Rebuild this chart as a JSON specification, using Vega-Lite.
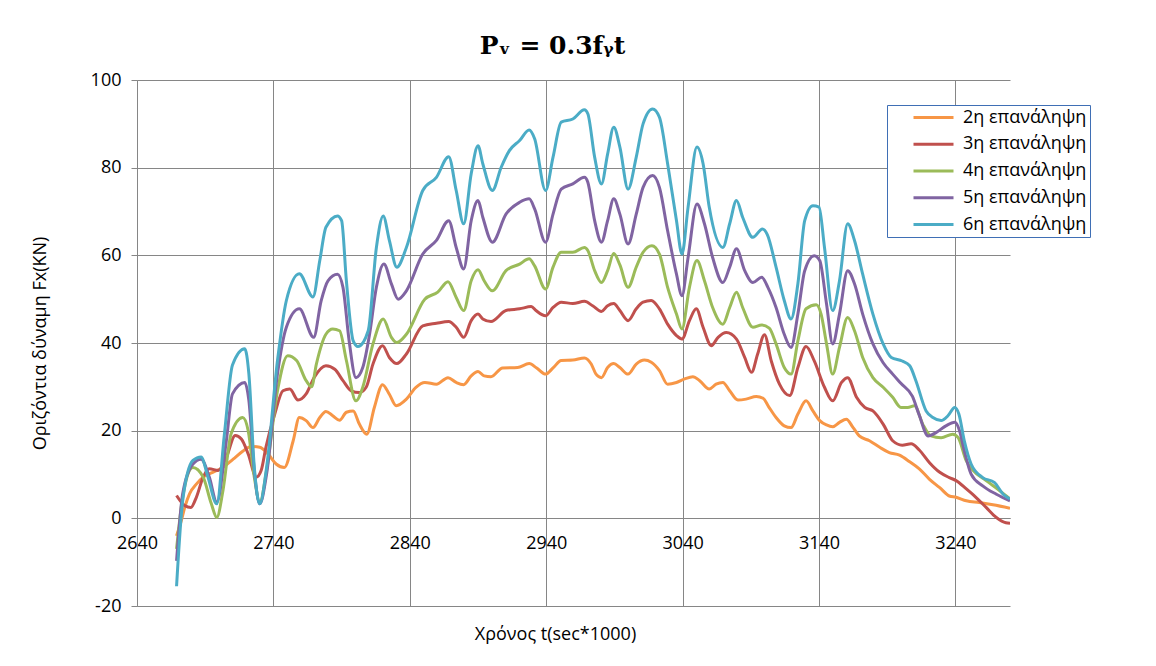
{
  "$schema": "https://vega.github.io/schema/vega-lite/v6.json",
  "width": 873,
  "height": 526,
  "autosize": {"type": "none"},
  "padding": {"left": 137, "top": 80, "right": 146, "bottom": 60},
  "background": "white",
  "title": {
    "text": "Pᵥ = 0.3fᵧt",
    "font": "DejaVu Serif",
    "fontSize": 25,
    "fontWeight": "bold",
    "color": "#000000",
    "anchor": "middle",
    "frame": "group",
    "dx": -21,
    "offset": 12
  },
  "data": {
    "values": [
      {"s": "2η επανάληψη", "t": 2669, "F": -4},
      {"s": "2η επανάληψη", "t": 2672.5, "F": -0.5},
      {"s": "2η επανάληψη", "t": 2675, "F": 2.5},
      {"s": "2η επανάληψη", "t": 2678.5, "F": 5.6},
      {"s": "2η επανάληψη", "t": 2683.5, "F": 7.8},
      {"s": "2η επανάληψη", "t": 2688.5, "F": 9.4},
      {"s": "2η επανάληψη", "t": 2695.5, "F": 10.5},
      {"s": "2η επανάληψη", "t": 2703, "F": 11.6},
      {"s": "2η επανάληψη", "t": 2710.5, "F": 13.5},
      {"s": "2η επανάληψη", "t": 2717.5, "F": 15.3},
      {"s": "2η επανάληψη", "t": 2723.5, "F": 16.4},
      {"s": "2η επανάληψη", "t": 2730, "F": 16.2},
      {"s": "2η επανάληψη", "t": 2736, "F": 14.7},
      {"s": "2η επανάληψη", "t": 2742, "F": 12.4},
      {"s": "2η επανάληψη", "t": 2748, "F": 11.6},
      {"s": "2η επανάληψη", "t": 2754.5, "F": 17.7},
      {"s": "2η επανάληψη", "t": 2759, "F": 23},
      {"s": "2η επανάληψη", "t": 2764, "F": 22.3},
      {"s": "2η επανάληψη", "t": 2769, "F": 20.7},
      {"s": "2η επανάληψη", "t": 2774, "F": 23},
      {"s": "2η επανάληψη", "t": 2778.5, "F": 24.4},
      {"s": "2η επανάληψη", "t": 2783.5, "F": 23.4},
      {"s": "2η επανάληψη", "t": 2788.5, "F": 22.4},
      {"s": "2η επανάληψη", "t": 2793.5, "F": 24.2},
      {"s": "2η επανάληψη", "t": 2798.5, "F": 24.5},
      {"s": "2η επανάληψη", "t": 2803, "F": 21.5},
      {"s": "2η επανάληψη", "t": 2808.5, "F": 19.2},
      {"s": "2η επανάληψη", "t": 2814, "F": 25.3},
      {"s": "2η επανάληψη", "t": 2820, "F": 30.5},
      {"s": "2η επανάληψη", "t": 2825, "F": 28.3},
      {"s": "2η επανάληψη", "t": 2830, "F": 25.7},
      {"s": "2η επανάληψη", "t": 2837.5, "F": 27.2},
      {"s": "2η επανάληψη", "t": 2844.5, "F": 29.9},
      {"s": "2η επανάληψη", "t": 2851, "F": 31},
      {"s": "2η επανάληψη", "t": 2859.5, "F": 30.6},
      {"s": "2η επανάληψη", "t": 2868, "F": 32.1},
      {"s": "2η επανάληψη", "t": 2874, "F": 31},
      {"s": "2η επανάληψη", "t": 2879.5, "F": 30.5},
      {"s": "2η επανάληψη", "t": 2885, "F": 32.5},
      {"s": "2η επανάληψη", "t": 2890, "F": 33.5},
      {"s": "2η επανάληψη", "t": 2894.5, "F": 32.5},
      {"s": "2η επανάληψη", "t": 2899.5, "F": 32.3},
      {"s": "2η επανάληψη", "t": 2908, "F": 34.3},
      {"s": "2η επανάληψη", "t": 2919, "F": 34.4},
      {"s": "2η επανάληψη", "t": 2927.5, "F": 35.3},
      {"s": "2η επανάληψη", "t": 2933, "F": 34.3},
      {"s": "2η επανάληψη", "t": 2939.5, "F": 32.9},
      {"s": "2η επανάληψη", "t": 2945, "F": 34.3},
      {"s": "2η επανάληψη", "t": 2951, "F": 36},
      {"s": "2η επανάληψη", "t": 2959.5, "F": 36.1},
      {"s": "2η επανάληψη", "t": 2968, "F": 36.6},
      {"s": "2η επανάληψη", "t": 2973, "F": 35.2},
      {"s": "2η επανάληψη", "t": 2976.5, "F": 32.9},
      {"s": "2η επανάληψη", "t": 2980.5, "F": 32.1},
      {"s": "2η επανάληψη", "t": 2985, "F": 34.4},
      {"s": "2η επανάληψη", "t": 2989.5, "F": 35.3},
      {"s": "2η επανάληψη", "t": 2994, "F": 34.4},
      {"s": "2η επανάληψη", "t": 3000, "F": 32.9},
      {"s": "2η επανάληψη", "t": 3006, "F": 35.2},
      {"s": "2η επανάληψη", "t": 3012, "F": 36.1},
      {"s": "2η επανάληψη", "t": 3017, "F": 35.6},
      {"s": "2η επανάληψη", "t": 3023, "F": 33.7},
      {"s": "2η επανάληψη", "t": 3029, "F": 30.6},
      {"s": "2η επανάληψη", "t": 3035.5, "F": 31},
      {"s": "2η επανάληψη", "t": 3041.5, "F": 31.8},
      {"s": "2η επανάληψη", "t": 3047.5, "F": 32.3},
      {"s": "2η επανάληψη", "t": 3052.5, "F": 31.4},
      {"s": "2η επανάληψη", "t": 3059.5, "F": 29.5},
      {"s": "2η επανάληψη", "t": 3064.5, "F": 30.6},
      {"s": "2η επανάληψη", "t": 3069.5, "F": 31},
      {"s": "2η επανάληψη", "t": 3074.5, "F": 29.1},
      {"s": "2η επανάληψη", "t": 3080.5, "F": 27},
      {"s": "2η επανάληψη", "t": 3086.5, "F": 27.2},
      {"s": "2η επανάληψη", "t": 3094, "F": 27.8},
      {"s": "2η επανάληψη", "t": 3099, "F": 27.4},
      {"s": "2η επανάληψη", "t": 3103, "F": 25.5},
      {"s": "2η επανάληψη", "t": 3108.5, "F": 23},
      {"s": "2η επανάληψη", "t": 3114.5, "F": 21.1},
      {"s": "2η επανάληψη", "t": 3119.5, "F": 20.7},
      {"s": "2η επανάληψη", "t": 3124.5, "F": 23.8},
      {"s": "2η επανάληψη", "t": 3130.5, "F": 26.8},
      {"s": "2η επανάληψη", "t": 3135.5, "F": 24.5},
      {"s": "2η επανάληψη", "t": 3140.5, "F": 22.3},
      {"s": "2η επανάληψη", "t": 3145.5, "F": 21.3},
      {"s": "2η επανάληψη", "t": 3150, "F": 20.9},
      {"s": "2η επανάληψη", "t": 3155, "F": 21.9},
      {"s": "2η επανάληψη", "t": 3160, "F": 22.6},
      {"s": "2η επανάληψη", "t": 3165, "F": 20.7},
      {"s": "2η επανάληψη", "t": 3169.5, "F": 18.8},
      {"s": "2η επανάληψη", "t": 3177, "F": 17.7},
      {"s": "2η επανάληψη", "t": 3184.5, "F": 16.2},
      {"s": "2η επανάληψη", "t": 3191.5, "F": 15},
      {"s": "2η επανάληψη", "t": 3199, "F": 14.4},
      {"s": "2η επανάληψη", "t": 3206.5, "F": 12.9},
      {"s": "2η επανάληψη", "t": 3213.5, "F": 11.3},
      {"s": "2η επανάληψη", "t": 3221, "F": 8.9},
      {"s": "2η επανάληψη", "t": 3228.5, "F": 7},
      {"s": "2η επανάληψη", "t": 3235.5, "F": 5.1},
      {"s": "2η επανάληψη", "t": 3240.5, "F": 4.8},
      {"s": "2η επανάληψη", "t": 3248, "F": 4},
      {"s": "2η επανάληψη", "t": 3257.5, "F": 3.6},
      {"s": "2η επανάληψη", "t": 3267.5, "F": 3.1},
      {"s": "2η επανάληψη", "t": 3280, "F": 2.3},

      {"s": "3η επανάληψη", "t": 2669, "F": 5.2},
      {"s": "3η επανάληψη", "t": 2675, "F": 2.9},
      {"s": "3η επανάληψη", "t": 2679.5, "F": 2.5},
      {"s": "3η επανάληψη", "t": 2683.5, "F": 4.8},
      {"s": "3η επανάληψη", "t": 2688.5, "F": 9.4},
      {"s": "3η επανάληψη", "t": 2693, "F": 11.3},
      {"s": "3η επανάληψη", "t": 2699.5, "F": 10.9},
      {"s": "3η επανάληψη", "t": 2705.5, "F": 13.9},
      {"s": "3η επανάληψη", "t": 2712, "F": 18.9},
      {"s": "3η επανάληψη", "t": 2716.5, "F": 18.1},
      {"s": "3η επανάληψη", "t": 2721.5, "F": 14.7},
      {"s": "3η επανάληψη", "t": 2727.5, "F": 9.4},
      {"s": "3η επανάληψη", "t": 2731, "F": 10.9},
      {"s": "3η επανάληψη", "t": 2734.5, "F": 16.2},
      {"s": "3η επανάληψη", "t": 2741, "F": 23.8},
      {"s": "3η επανάληψη", "t": 2747, "F": 29.1},
      {"s": "3η επανάληψη", "t": 2752, "F": 29.5},
      {"s": "3η επανάληψη", "t": 2758, "F": 27},
      {"s": "3η επανάληψη", "t": 2764, "F": 28.4},
      {"s": "3η επανάληψη", "t": 2770, "F": 32.2},
      {"s": "3η επανάληψη", "t": 2778.5, "F": 34.8},
      {"s": "3η επανάληψη", "t": 2785, "F": 34},
      {"s": "3η επανάληψη", "t": 2791, "F": 31.4},
      {"s": "3η επανάληψη", "t": 2797, "F": 29.1},
      {"s": "3η επανάληψη", "t": 2803, "F": 28.7},
      {"s": "3η επανάληψη", "t": 2808, "F": 29.9},
      {"s": "3η επανάληψη", "t": 2813, "F": 35.2},
      {"s": "3η επανάληψη", "t": 2820, "F": 39.4},
      {"s": "3η επανάληψη", "t": 2825, "F": 36.7},
      {"s": "3η επανάληψη", "t": 2830.5, "F": 35.3},
      {"s": "3η επανάληψη", "t": 2837.5, "F": 37.5},
      {"s": "3η επανάληψη", "t": 2849.5, "F": 43.9},
      {"s": "3η επανάληψη", "t": 2859.5, "F": 44.5},
      {"s": "3η επανάληψη", "t": 2868.5, "F": 44.9},
      {"s": "3η επανάληψη", "t": 2874, "F": 43.6},
      {"s": "3η επανάληψη", "t": 2879.5, "F": 41.3},
      {"s": "3η επανάληψη", "t": 2885, "F": 45.1},
      {"s": "3η επανάληψη", "t": 2890, "F": 46.6},
      {"s": "3η επανάληψη", "t": 2893.5, "F": 45.5},
      {"s": "3η επανάληψη", "t": 2899.5, "F": 44.9},
      {"s": "3η επανάληψη", "t": 2910.5, "F": 47.4},
      {"s": "3η επανάληψη", "t": 2920.5, "F": 47.8},
      {"s": "3η επανάληψη", "t": 2929, "F": 48.3},
      {"s": "3η επανάληψη", "t": 2932.5, "F": 47.4},
      {"s": "3η επανάληψη", "t": 2939.5, "F": 46.2},
      {"s": "3η επανάληψη", "t": 2945, "F": 48.1},
      {"s": "3η επανάληψη", "t": 2951, "F": 49.3},
      {"s": "3η επανάληψη", "t": 2959.5, "F": 49},
      {"s": "3η επανάληψη", "t": 2968, "F": 49.5},
      {"s": "3η επανάληψη", "t": 2974, "F": 48.5},
      {"s": "3η επανάληψη", "t": 2980.5, "F": 47.2},
      {"s": "3η επανάληψη", "t": 2985, "F": 48.5},
      {"s": "3η επανάληψη", "t": 2989.5, "F": 49},
      {"s": "3η επανάληψη", "t": 2994, "F": 47.4},
      {"s": "3η επανάληψη", "t": 3000, "F": 45.1},
      {"s": "3η επανάληψη", "t": 3006, "F": 47.8},
      {"s": "3η επανάληψη", "t": 3011, "F": 49.3},
      {"s": "3η επανάληψη", "t": 3017, "F": 49.7},
      {"s": "3η επανάληψη", "t": 3023, "F": 47.8},
      {"s": "3η επανάληψη", "t": 3029, "F": 44.3},
      {"s": "3η επανάληψη", "t": 3035.5, "F": 41.7},
      {"s": "3η επανάληψη", "t": 3039.5, "F": 40.9},
      {"s": "3η επανάληψη", "t": 3045, "F": 45.1},
      {"s": "3η επανάληψη", "t": 3050, "F": 47.8},
      {"s": "3η επανάληψη", "t": 3055, "F": 43.6},
      {"s": "3η επανάληψη", "t": 3061, "F": 39.4},
      {"s": "3η επανάληψη", "t": 3066, "F": 41.3},
      {"s": "3η επανάληψη", "t": 3072, "F": 42.4},
      {"s": "3η επανάληψη", "t": 3079.5, "F": 40.9},
      {"s": "3η επανάληψη", "t": 3085.5, "F": 36.7},
      {"s": "3η επανάληψη", "t": 3090.5, "F": 33.3},
      {"s": "3η επανάληψη", "t": 3095, "F": 37.5},
      {"s": "3η επανάληψη", "t": 3100, "F": 41.9},
      {"s": "3η επανάληψη", "t": 3105, "F": 35.9},
      {"s": "3η επανάληψη", "t": 3111, "F": 30.6},
      {"s": "3η επανάληψη", "t": 3118.5, "F": 28},
      {"s": "3η επανάληψη", "t": 3124.5, "F": 34.4},
      {"s": "3η επανάληψη", "t": 3130.5, "F": 39.2},
      {"s": "3η επανάληψη", "t": 3136.5, "F": 35.9},
      {"s": "3η επανάληψη", "t": 3144, "F": 29.9},
      {"s": "3η επανάληψη", "t": 3150, "F": 26.8},
      {"s": "3η επανάληψη", "t": 3156.5, "F": 31},
      {"s": "3η επανάληψη", "t": 3161, "F": 32.1},
      {"s": "3η επανάληψη", "t": 3167.5, "F": 27.6},
      {"s": "3η επανάληψη", "t": 3173.5, "F": 25.3},
      {"s": "3η επανάληψη", "t": 3179.5, "F": 24.5},
      {"s": "3η επανάληψη", "t": 3187, "F": 21.5},
      {"s": "3η επανάληψη", "t": 3194, "F": 17.7},
      {"s": "3η επανάληψη", "t": 3201, "F": 16.7},
      {"s": "3η επανάληψη", "t": 3207.5, "F": 17},
      {"s": "3η επανάληψη", "t": 3213.5, "F": 15.6},
      {"s": "3η επανάληψη", "t": 3221, "F": 12.7},
      {"s": "3η επανάληψη", "t": 3228.5, "F": 10.5},
      {"s": "3η επανάληψη", "t": 3235.5, "F": 9.3},
      {"s": "3η επανάληψη", "t": 3240.5, "F": 8.6},
      {"s": "3η επανάληψη", "t": 3248, "F": 6.7},
      {"s": "3η επανάληψη", "t": 3255, "F": 4.8},
      {"s": "3η επανάληψη", "t": 3262.5, "F": 2.5},
      {"s": "3η επανάληψη", "t": 3270, "F": 0.2},
      {"s": "3η επανάληψη", "t": 3277, "F": -1},
      {"s": "3η επανάληψη", "t": 3280, "F": -1.1},

      {"s": "4η επανάληψη", "t": 2669, "F": -7},
      {"s": "4η επανάληψη", "t": 2673.5, "F": 4.8},
      {"s": "4η επανάληψη", "t": 2681, "F": 11.6},
      {"s": "4η επανάληψη", "t": 2688.5, "F": 9.4},
      {"s": "4η επανάληψη", "t": 2694.5, "F": 3.3},
      {"s": "4η επανάληψη", "t": 2698.5, "F": 0.2},
      {"s": "4η επανάληψη", "t": 2703, "F": 6.3},
      {"s": "4η επανάληψη", "t": 2709, "F": 19.3},
      {"s": "4η επανάληψη", "t": 2717.5, "F": 23},
      {"s": "4η επανάληψη", "t": 2721.5, "F": 20},
      {"s": "4η επανάληψη", "t": 2726, "F": 9.4},
      {"s": "4η επανάληψη", "t": 2730, "F": 3.7},
      {"s": "4η επανάληψη", "t": 2735, "F": 10.9},
      {"s": "4η επανάληψη", "t": 2743, "F": 29.1},
      {"s": "4η επανάληψη", "t": 2750.5, "F": 37.1},
      {"s": "4η επανάληψη", "t": 2757, "F": 36},
      {"s": "4η επανάληψη", "t": 2764, "F": 31.4},
      {"s": "4η επανάληψη", "t": 2768, "F": 30},
      {"s": "4η επανάληψη", "t": 2771.5, "F": 35.2},
      {"s": "4η επανάληψη", "t": 2778.5, "F": 42},
      {"s": "4η επανάληψη", "t": 2783.5, "F": 43.2},
      {"s": "4η επανάληψη", "t": 2788.5, "F": 42.8},
      {"s": "4η επανάληψη", "t": 2793.5, "F": 36},
      {"s": "4η επανάληψη", "t": 2800.5, "F": 26.8},
      {"s": "4η επανάληψη", "t": 2805.5, "F": 29.9},
      {"s": "4η επανάληψη", "t": 2813, "F": 39.8},
      {"s": "4η επανάληψη", "t": 2820.5, "F": 45.5},
      {"s": "4η επανάληψη", "t": 2826.5, "F": 41.3},
      {"s": "4η επανάληψη", "t": 2830.5, "F": 40.1},
      {"s": "4η επανάληψη", "t": 2837.5, "F": 42},
      {"s": "4η επανάληψη", "t": 2851, "F": 50},
      {"s": "4η επανάληψη", "t": 2860.5, "F": 51.6},
      {"s": "4η επανάληψη", "t": 2868, "F": 54},
      {"s": "4η επανάληψη", "t": 2874, "F": 50.4},
      {"s": "4η επανάληψη", "t": 2879.5, "F": 47.4},
      {"s": "4η επανάληψη", "t": 2885, "F": 54.2},
      {"s": "4η επανάληψη", "t": 2890, "F": 56.7},
      {"s": "4η επανάληψη", "t": 2894.5, "F": 54.2},
      {"s": "4η επανάληψη", "t": 2900.5, "F": 51.9},
      {"s": "4η επανάληψη", "t": 2910.5, "F": 56.5},
      {"s": "4η επανάληψη", "t": 2920.5, "F": 58},
      {"s": "4η επανάληψη", "t": 2927.5, "F": 59.2},
      {"s": "4η επανάληψη", "t": 2931.5, "F": 57.6},
      {"s": "4η επανάληψη", "t": 2939.5, "F": 52.3},
      {"s": "4η επανάληψη", "t": 2945, "F": 57.3},
      {"s": "4η επανάληψη", "t": 2951, "F": 60.7},
      {"s": "4η επανάληψη", "t": 2959.5, "F": 60.7},
      {"s": "4η επανάληψη", "t": 2968, "F": 61.8},
      {"s": "4η επανάληψη", "t": 2970.5, "F": 61.1},
      {"s": "4η επανάληψη", "t": 2975.5, "F": 56.5},
      {"s": "4η επανάληψη", "t": 2980.5, "F": 53.8},
      {"s": "4η επανάληψη", "t": 2985, "F": 56.5},
      {"s": "4η επανάληψη", "t": 2989.5, "F": 60.4},
      {"s": "4η επανάληψη", "t": 2994, "F": 57.8},
      {"s": "4η επανάληψη", "t": 3000, "F": 52.7},
      {"s": "4η επανάληψη", "t": 3006, "F": 57.3},
      {"s": "4η επανάληψη", "t": 3011, "F": 60.7},
      {"s": "4η επανάληψη", "t": 3017.5, "F": 62.2},
      {"s": "4η επανάληψη", "t": 3023, "F": 60.3},
      {"s": "4η επανάληψη", "t": 3029, "F": 52.7},
      {"s": "4η επανάληψη", "t": 3035.5, "F": 46.6},
      {"s": "4η επανάληψη", "t": 3039.5, "F": 43.2},
      {"s": "4η επανάληψη", "t": 3045, "F": 52.7},
      {"s": "4η επανάληψη", "t": 3050.5, "F": 58.8},
      {"s": "4η επανάληψη", "t": 3056, "F": 54.2},
      {"s": "4η επανάληψη", "t": 3062, "F": 48.1},
      {"s": "4η επανάληψη", "t": 3069.5, "F": 44.3},
      {"s": "4η επανάληψη", "t": 3074.5, "F": 48.1},
      {"s": "4η επανάληψη", "t": 3079.5, "F": 51.6},
      {"s": "4η επανάληψη", "t": 3084, "F": 48.1},
      {"s": "4η επανάληψη", "t": 3091.5, "F": 43.6},
      {"s": "4η επανάληψη", "t": 3098, "F": 44.1},
      {"s": "4η επανάληψη", "t": 3103.5, "F": 43.4},
      {"s": "4η επανάληψη", "t": 3108.5, "F": 39.8},
      {"s": "4η επανάληψη", "t": 3114.5, "F": 34.4},
      {"s": "4η επανάληψη", "t": 3119.5, "F": 32.9},
      {"s": "4η επανάληψη", "t": 3124.5, "F": 40.5},
      {"s": "4η επανάληψη", "t": 3130.5, "F": 47.8},
      {"s": "4η επανάληψη", "t": 3138, "F": 48.7},
      {"s": "4η επανάληψη", "t": 3141.5, "F": 46.6},
      {"s": "4η επανάληψη", "t": 3145.5, "F": 39.8},
      {"s": "4η επανάληψη", "t": 3150, "F": 32.9},
      {"s": "4η επανάληψη", "t": 3155, "F": 39},
      {"s": "4η επανάληψη", "t": 3161, "F": 45.8},
      {"s": "4η επανάληψη", "t": 3166, "F": 42.8},
      {"s": "4η επανάληψη", "t": 3172, "F": 36.7},
      {"s": "4η επανάληψη", "t": 3179.5, "F": 32.1},
      {"s": "4η επανάληψη", "t": 3187, "F": 29.9},
      {"s": "4η επανάληψη", "t": 3194, "F": 27.6},
      {"s": "4η επανάληψη", "t": 3200, "F": 25.3},
      {"s": "4η επανάληψη", "t": 3205, "F": 25.3},
      {"s": "4η επανάληψη", "t": 3210, "F": 25.7},
      {"s": "4η επανάληψη", "t": 3216, "F": 21.5},
      {"s": "4η επανάληψη", "t": 3222, "F": 18.8},
      {"s": "4η επανάληψη", "t": 3229.5, "F": 18.4},
      {"s": "4η επανάληψη", "t": 3238, "F": 19.2},
      {"s": "4η επανάληψη", "t": 3242, "F": 18.4},
      {"s": "4η επανάληψη", "t": 3248, "F": 13.1},
      {"s": "4η επανάληψη", "t": 3253, "F": 10.9},
      {"s": "4η επανάληψη", "t": 3262.5, "F": 8.6},
      {"s": "4η επανάληψη", "t": 3272.5, "F": 6.3},
      {"s": "4η επανάληψη", "t": 3280, "F": 4.4},

      {"s": "5η επανάληψη", "t": 2669, "F": -9.7},
      {"s": "5η επανάληψη", "t": 2673.5, "F": 5.6},
      {"s": "5η επανάληψη", "t": 2681, "F": 12.4},
      {"s": "5η επανάληψη", "t": 2687, "F": 13.5},
      {"s": "5η επανάληψη", "t": 2693, "F": 9.4},
      {"s": "5η επανάληψη", "t": 2698.5, "F": 3.7},
      {"s": "5η επανάληψη", "t": 2705.5, "F": 17.7},
      {"s": "5η επανάληψη", "t": 2710, "F": 28.4},
      {"s": "5η επανάληψη", "t": 2719, "F": 31},
      {"s": "5η επανάληψη", "t": 2722, "F": 26.9},
      {"s": "5η επανάληψη", "t": 2726, "F": 10.9},
      {"s": "5η επανάληψη", "t": 2730, "F": 3.3},
      {"s": "5η επανάληψη", "t": 2735, "F": 10.1},
      {"s": "5η επανάληψη", "t": 2743, "F": 33},
      {"s": "5η επανάληψη", "t": 2749.5, "F": 43.6},
      {"s": "5η επανάληψη", "t": 2759, "F": 47.8},
      {"s": "5η επανάληψη", "t": 2769.5, "F": 41.3},
      {"s": "5η επανάληψη", "t": 2775, "F": 49.6},
      {"s": "5η επανάληψη", "t": 2780, "F": 54.2},
      {"s": "5η επανάληψη", "t": 2787, "F": 55.7},
      {"s": "5η επανάληψη", "t": 2791, "F": 52.7},
      {"s": "5η επανάληψη", "t": 2795.5, "F": 40.5},
      {"s": "5η επανάληψη", "t": 2800.5, "F": 32.1},
      {"s": "5η επανάληψη", "t": 2805.5, "F": 34.4},
      {"s": "5η επανάληψη", "t": 2810.5, "F": 42},
      {"s": "5η επανάληψη", "t": 2815.5, "F": 52.7},
      {"s": "5η επανάληψη", "t": 2821, "F": 58},
      {"s": "5η επανάληψη", "t": 2826.5, "F": 53.5},
      {"s": "5η επανάληψη", "t": 2831.5, "F": 50},
      {"s": "5η επανάληψη", "t": 2837.5, "F": 51.9},
      {"s": "5η επανάληψη", "t": 2849.5, "F": 60.3},
      {"s": "5η επανάληψη", "t": 2859.5, "F": 63.4},
      {"s": "5η επανάληψη", "t": 2868.5, "F": 67.9},
      {"s": "5η επανάληψη", "t": 2874, "F": 61.8},
      {"s": "5η επανάληψη", "t": 2879.5, "F": 56.9},
      {"s": "5η επανάληψη", "t": 2885, "F": 67.9},
      {"s": "5η επανάληψη", "t": 2890, "F": 72.5},
      {"s": "5η επανάληψη", "t": 2893.5, "F": 68.7},
      {"s": "5η επανάληψη", "t": 2900.5, "F": 63},
      {"s": "5η επανάληψη", "t": 2910.5, "F": 69.4},
      {"s": "5η επανάληψη", "t": 2920.5, "F": 72.1},
      {"s": "5η επανάληψη", "t": 2927.5, "F": 72.9},
      {"s": "5η επανάληψη", "t": 2931.5, "F": 70.6},
      {"s": "5η επανάληψη", "t": 2939.5, "F": 63},
      {"s": "5η επανάληψη", "t": 2945, "F": 69.4},
      {"s": "5η επανάληψη", "t": 2951, "F": 75.1},
      {"s": "5η επανάληψη", "t": 2959.5, "F": 76.3},
      {"s": "5η επανάληψη", "t": 2968, "F": 77.8},
      {"s": "5η επανάληψη", "t": 2970.5, "F": 76.7},
      {"s": "5η επανάληψη", "t": 2975.5, "F": 67.9},
      {"s": "5η επανάληψη", "t": 2980.5, "F": 63},
      {"s": "5η επανάληψη", "t": 2985, "F": 67.9},
      {"s": "5η επανάληψη", "t": 2989.5, "F": 72.9},
      {"s": "5η επανάληψη", "t": 2994, "F": 69.4},
      {"s": "5η επανάληψη", "t": 3000, "F": 62.6},
      {"s": "5η επανάληψη", "t": 3006, "F": 69.4},
      {"s": "5η επανάληψη", "t": 3011, "F": 75.5},
      {"s": "5η επανάληψη", "t": 3018, "F": 78.2},
      {"s": "5η επανάληψη", "t": 3023, "F": 75.5},
      {"s": "5η επανάληψη", "t": 3029, "F": 65.6},
      {"s": "5η επανάληψη", "t": 3035.5, "F": 55.7},
      {"s": "5η επανάληψη", "t": 3039.5, "F": 50.8},
      {"s": "5η επανάληψη", "t": 3044, "F": 59.5},
      {"s": "5η επανάληψη", "t": 3050.5, "F": 71.7},
      {"s": "5η επανάληψη", "t": 3056, "F": 67.2},
      {"s": "5η επανάληψη", "t": 3062, "F": 59.5},
      {"s": "5η επανάληψη", "t": 3069.5, "F": 53.8},
      {"s": "5η επανάληψη", "t": 3074.5, "F": 57.3},
      {"s": "5η επανάληψη", "t": 3079.5, "F": 61.5},
      {"s": "5η επανάληψη", "t": 3085.5, "F": 56.5},
      {"s": "5η επανάληψη", "t": 3091.5, "F": 53.8},
      {"s": "5η επανάληψη", "t": 3098, "F": 55},
      {"s": "5η επανάληψη", "t": 3102.5, "F": 52.7},
      {"s": "5η επανάληψη", "t": 3108.5, "F": 48.1},
      {"s": "5η επανάληψη", "t": 3114.5, "F": 42},
      {"s": "5η επανάληψη", "t": 3119.5, "F": 39},
      {"s": "5η επανάληψη", "t": 3124.5, "F": 46.6},
      {"s": "5η επανάληψη", "t": 3129.5, "F": 56.5},
      {"s": "5η επανάληψη", "t": 3136.5, "F": 59.9},
      {"s": "5η επανάληψη", "t": 3140.5, "F": 58.8},
      {"s": "5η επανάληψη", "t": 3145.5, "F": 48.9},
      {"s": "5η επανάληψη", "t": 3150, "F": 39.8},
      {"s": "5η επανάληψη", "t": 3155, "F": 46.6},
      {"s": "5η επανάληψη", "t": 3161, "F": 56.5},
      {"s": "5η επανάληψη", "t": 3166, "F": 53.5},
      {"s": "5η επανάληψη", "t": 3172, "F": 46.6},
      {"s": "5η επανάληψη", "t": 3179.5, "F": 39.8},
      {"s": "5η επανάληψη", "t": 3187, "F": 35.5},
      {"s": "5η επανάληψη", "t": 3194, "F": 32.9},
      {"s": "5η επανάληψη", "t": 3200, "F": 30.8},
      {"s": "5η επανάληψη", "t": 3208.5, "F": 27.8},
      {"s": "5η επανάληψη", "t": 3213.5, "F": 23.5},
      {"s": "5η επανάληψη", "t": 3220, "F": 18.8},
      {"s": "5η επανάληψη", "t": 3226, "F": 19.6},
      {"s": "5η επανάληψη", "t": 3233, "F": 21.1},
      {"s": "5η επανάληψη", "t": 3239.5, "F": 21.9},
      {"s": "5η επανάληψη", "t": 3243, "F": 20},
      {"s": "5η επανάληψη", "t": 3246.5, "F": 15.4},
      {"s": "5η επανάληψη", "t": 3251.5, "F": 10.1},
      {"s": "5η επανάληψη", "t": 3260, "F": 7.4},
      {"s": "5η επανάληψη", "t": 3270, "F": 5.5},
      {"s": "5η επανάληψη", "t": 3280, "F": 4},

      {"s": "6η επανάληψη", "t": 2669, "F": -15.5},
      {"s": "6η επανάληψη", "t": 2673.5, "F": 4},
      {"s": "6η επανάληψη", "t": 2681, "F": 13.2},
      {"s": "6η επανάληψη", "t": 2687, "F": 14},
      {"s": "6η επανάληψη", "t": 2692, "F": 9.4},
      {"s": "6η επανάληψη", "t": 2698.5, "F": 3.3},
      {"s": "6η επανάληψη", "t": 2704, "F": 19},
      {"s": "6η επανάληψη", "t": 2710, "F": 35},
      {"s": "6η επανάληψη", "t": 2719, "F": 38.7},
      {"s": "6η επανάληψη", "t": 2722, "F": 33},
      {"s": "6η επανάληψη", "t": 2726, "F": 11.6},
      {"s": "6η επανάληψη", "t": 2730, "F": 3.3},
      {"s": "6η επανάληψη", "t": 2735, "F": 11.6},
      {"s": "6η επανάληψη", "t": 2743, "F": 36},
      {"s": "6η επανάληψη", "t": 2749.5, "F": 49.7},
      {"s": "6η επανάληψη", "t": 2759, "F": 55.8},
      {"s": "6η επανάληψη", "t": 2769, "F": 50.5},
      {"s": "6η επανάληψη", "t": 2774, "F": 58.8},
      {"s": "6η επανάληψη", "t": 2778.5, "F": 66.4},
      {"s": "6η επανάληψη", "t": 2787, "F": 69},
      {"s": "6η επανάληψη", "t": 2790, "F": 67.9},
      {"s": "6η επανάληψη", "t": 2793.5, "F": 54.2},
      {"s": "6η επανάληψη", "t": 2798.5, "F": 40.5},
      {"s": "6η επανάληψη", "t": 2802, "F": 39.2},
      {"s": "6η επανάληψη", "t": 2809.5, "F": 42.8},
      {"s": "6η επανάληψη", "t": 2815.5, "F": 61.8},
      {"s": "6η επανάληψη", "t": 2820.5, "F": 69},
      {"s": "6η επανάληψη", "t": 2825, "F": 63.4},
      {"s": "6η επανάληψη", "t": 2830.5, "F": 57.3},
      {"s": "6η επανάληψη", "t": 2837.5, "F": 61.8},
      {"s": "6η επανάληψη", "t": 2849.5, "F": 74.8},
      {"s": "6η επανάληψη", "t": 2859.5, "F": 77.8},
      {"s": "6η επανάληψη", "t": 2868.5, "F": 82.5},
      {"s": "6η επανάληψη", "t": 2874, "F": 74.8},
      {"s": "6η επανάληψη", "t": 2879.5, "F": 67.2},
      {"s": "6η επανάληψη", "t": 2885, "F": 78.6},
      {"s": "6η επανάληψη", "t": 2890, "F": 85},
      {"s": "6η επανάληψη", "t": 2893.5, "F": 80.9},
      {"s": "6η επανάληψη", "t": 2900.5, "F": 74.8},
      {"s": "6η επανάληψη", "t": 2907, "F": 80.1},
      {"s": "6η επανάληψη", "t": 2913, "F": 83.9},
      {"s": "6η επανάληψη", "t": 2920.5, "F": 86.2},
      {"s": "6η επανάληψη", "t": 2927.5, "F": 88.6},
      {"s": "6η επανάληψη", "t": 2931.5, "F": 86.6},
      {"s": "6η επανάληψη", "t": 2939.5, "F": 74.8},
      {"s": "6η επανάληψη", "t": 2945, "F": 82.4},
      {"s": "6η επανάληψη", "t": 2951, "F": 90.4},
      {"s": "6η επανάληψη", "t": 2959.5, "F": 91.1},
      {"s": "6η επανάληψη", "t": 2968, "F": 93.2},
      {"s": "6η επανάληψη", "t": 2970.5, "F": 92.3},
      {"s": "6η επανάληψη", "t": 2975.5, "F": 82.4},
      {"s": "6η επανάληψη", "t": 2980.5, "F": 76.3},
      {"s": "6η επανάληψη", "t": 2985, "F": 83.1},
      {"s": "6η επανάληψη", "t": 2989.5, "F": 89.2},
      {"s": "6η επανάληψη", "t": 2994, "F": 84.7},
      {"s": "6η επανάληψη", "t": 3000, "F": 75.1},
      {"s": "6η επανάληψη", "t": 3006, "F": 82.4},
      {"s": "6η επανάληψη", "t": 3011, "F": 90},
      {"s": "6η επανάληψη", "t": 3018, "F": 93.4},
      {"s": "6η επανάληψη", "t": 3023, "F": 91.5},
      {"s": "6η επανάληψη", "t": 3029, "F": 80.9},
      {"s": "6η επανάληψη", "t": 3035.5, "F": 67.9},
      {"s": "6η επανάληψη", "t": 3039.5, "F": 60.3},
      {"s": "6η επανάληψη", "t": 3044, "F": 71},
      {"s": "6η επανάληψη", "t": 3050.5, "F": 84.7},
      {"s": "6η επανάληψη", "t": 3055, "F": 80.9},
      {"s": "6η επανάληψη", "t": 3059.5, "F": 71},
      {"s": "6η επανάληψη", "t": 3069.5, "F": 61.8},
      {"s": "6η επανάληψη", "t": 3074.5, "F": 67.2},
      {"s": "6η επανάληψη", "t": 3079.5, "F": 72.5},
      {"s": "6η επανάληψη", "t": 3084, "F": 68.7},
      {"s": "6η επανάληψη", "t": 3091.5, "F": 64.1},
      {"s": "6η επανάληψη", "t": 3098.5, "F": 66},
      {"s": "6η επανάληψη", "t": 3102, "F": 64.8},
      {"s": "6η επανάληψη", "t": 3108.5, "F": 57.3},
      {"s": "6η επανάληψη", "t": 3114.5, "F": 49.7},
      {"s": "6η επανάληψη", "t": 3119.5, "F": 45.5},
      {"s": "6η επανάληψη", "t": 3124.5, "F": 53.5},
      {"s": "6η επανάληψη", "t": 3129.5, "F": 67.9},
      {"s": "6η επανάληψη", "t": 3135.5, "F": 71.3},
      {"s": "6η επανάληψη", "t": 3140, "F": 71},
      {"s": "6η επανάληψη", "t": 3144, "F": 61.8},
      {"s": "6η επανάληψη", "t": 3150, "F": 47.4},
      {"s": "6η επανάληψη", "t": 3155, "F": 54.2},
      {"s": "6η επανάληψη", "t": 3161, "F": 67.2},
      {"s": "6η επανάληψη", "t": 3166, "F": 63.4},
      {"s": "6η επανάληψη", "t": 3172, "F": 55.7},
      {"s": "6η επανάληψη", "t": 3179.5, "F": 46.6},
      {"s": "6η επανάληψη", "t": 3187, "F": 39.8},
      {"s": "6η επανάληψη", "t": 3193, "F": 36.7},
      {"s": "6η επανάληψη", "t": 3201, "F": 35.9},
      {"s": "6η επανάληψη", "t": 3206.5, "F": 34.8},
      {"s": "6η επανάληψη", "t": 3211, "F": 31.4},
      {"s": "6η επανάληψη", "t": 3218.5, "F": 24.5},
      {"s": "6η επανάληψη", "t": 3223.5, "F": 23},
      {"s": "6η επανάληψη", "t": 3229.5, "F": 22.3},
      {"s": "6η επανάληψη", "t": 3234.5, "F": 23.4},
      {"s": "6η επανάληψη", "t": 3239.5, "F": 25.3},
      {"s": "6η επανάληψη", "t": 3242.5, "F": 23.8},
      {"s": "6η επανάληψη", "t": 3246.5, "F": 17.7},
      {"s": "6η επανάληψη", "t": 3251.5, "F": 12.4},
      {"s": "6η επανάληψη", "t": 3260, "F": 9.3},
      {"s": "6η επανάληψη", "t": 3268.5, "F": 8.2},
      {"s": "6η επανάληψη", "t": 3275, "F": 5.5},
      {"s": "6η επανάληψη", "t": 3280, "F": 4.4}
    ]
  },
  "mark": {"type": "line", "interpolate": "monotone", "strokeWidth": 3, "clip": true},
  "encoding": {
    "x": {
      "field": "t",
      "type": "quantitative",
      "scale": {"domain": [2640, 3280], "nice": false, "zero": false},
      "axis": {
        "values": [2640, 2740, 2840, 2940, 3040, 3140, 3240],
        "labelExpr": "'' + datum.value",
        "offset": -88,
        "title": "Χρόνος  t(sec*1000)",
        "titleX": 418,
        "titleY": 116,
        "titleAnchor": "start",
        "titleAlign": "center",
        "titleBaseline": "middle",
        "labelPadding": 10,
        "labelFlush": false
      }
    },
    "y": {
      "field": "F",
      "type": "quantitative",
      "scale": {"domain": [-20, 100], "nice": false},
      "axis": {
        "values": [-20, 0, 20, 40, 60, 80, 100],
        "labelExpr": "'' + datum.value",
        "title": "Οριζόντια δύναμη Fx(KN)",
        "titleX": -97,
        "titleY": 263,
        "titleAlign": "center",
        "titleBaseline": "middle",
        "labelPadding": 10
      }
    },
    "color": {
      "field": "s",
      "type": "nominal",
      "scale": {
        "domain": ["2η επανάληψη", "3η επανάληψη", "4η επανάληψη", "5η επανάληψη", "6η επανάληψη"],
        "range": ["#F79646", "#C0504D", "#9BBB59", "#8064A2", "#4BACC6"]
      },
      "legend": {
        "orient": "none",
        "legendX": 750,
        "legendY": 25,
        "title": null,
        "symbolType": "stroke",
        "symbolSize": 1600,
        "symbolStrokeWidth": 3,
        "clipHeight": 19,
        "rowPadding": 7.75,
        "padding": 3,
        "symbolOffset": 22,
        "labelOffset": 8,
        "labelFont": "Open Sans",
        "labelFontSize": 18,
        "labelColor": "#000000",
        "labelLimit": 300,
        "strokeColor": "#3F6FB5",
        "fillColor": "#FFFFFF"
      }
    }
  },
  "config": {
    "view": {"stroke": null},
    "axis": {
      "grid": true,
      "gridColor": "#868686",
      "gridWidth": 1,
      "domainColor": "#868686",
      "tickColor": "#868686",
      "tickSize": 6,
      "labelFont": "Open Sans",
      "labelFontSize": 18,
      "labelColor": "#000000",
      "titleFont": "Open Sans",
      "titleFontSize": 18,
      "titleFontWeight": "normal",
      "titleColor": "#000000"
    }
  }
}
